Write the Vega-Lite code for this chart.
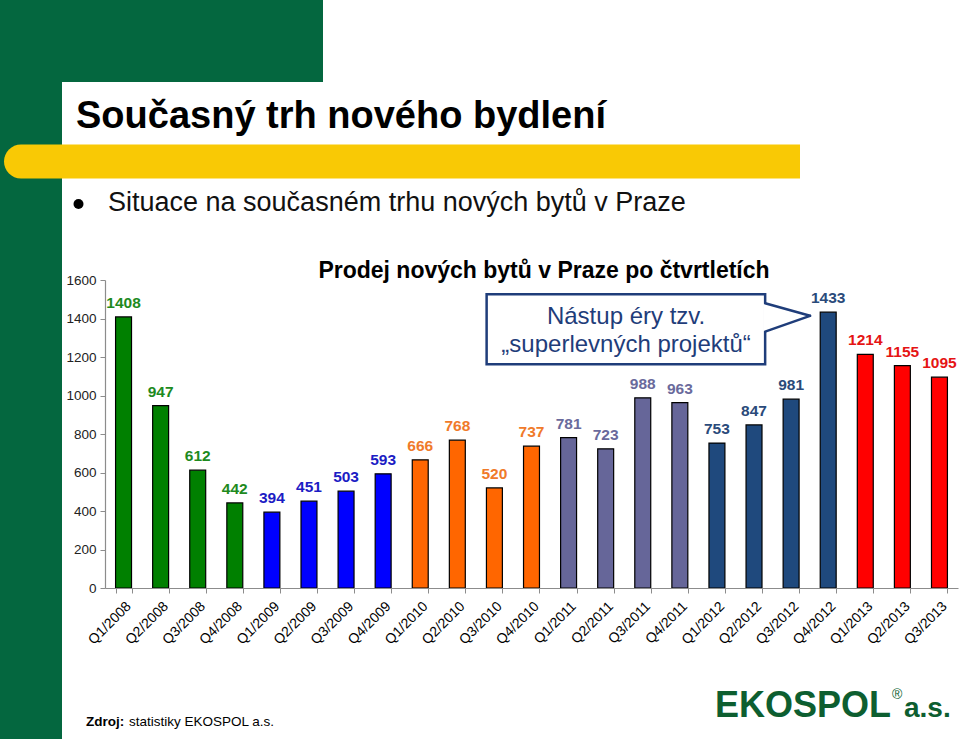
{
  "$schema": "https://vega.github.io/schema/vega-lite/v6.json",
  "width": 853,
  "height": 308,
  "autosize": "none",
  "padding": {"left": 105, "top": 280, "right": 1, "bottom": 151},
  "background": "#ffffff",
  "config": {"view": {"stroke": null}, "font": "Liberation Sans", "axis": {"grid": false, "zindex": 1}},
  "datasets": {
    "sales": [
      {"quarter": "Q1/2008", "year": "2008", "units": 1408},
      {"quarter": "Q2/2008", "year": "2008", "units": 947},
      {"quarter": "Q3/2008", "year": "2008", "units": 612},
      {"quarter": "Q4/2008", "year": "2008", "units": 442},
      {"quarter": "Q1/2009", "year": "2009", "units": 394},
      {"quarter": "Q2/2009", "year": "2009", "units": 451},
      {"quarter": "Q3/2009", "year": "2009", "units": 503},
      {"quarter": "Q4/2009", "year": "2009", "units": 593},
      {"quarter": "Q1/2010", "year": "2010", "units": 666},
      {"quarter": "Q2/2010", "year": "2010", "units": 768},
      {"quarter": "Q3/2010", "year": "2010", "units": 520},
      {"quarter": "Q4/2010", "year": "2010", "units": 737},
      {"quarter": "Q1/2011", "year": "2011", "units": 781},
      {"quarter": "Q2/2011", "year": "2011", "units": 723},
      {"quarter": "Q3/2011", "year": "2011", "units": 988},
      {"quarter": "Q4/2011", "year": "2011", "units": 963},
      {"quarter": "Q1/2012", "year": "2012", "units": 753},
      {"quarter": "Q2/2012", "year": "2012", "units": 847},
      {"quarter": "Q3/2012", "year": "2012", "units": 981},
      {"quarter": "Q4/2012", "year": "2012", "units": 1433},
      {"quarter": "Q1/2013", "year": "2013", "units": 1214},
      {"quarter": "Q2/2013", "year": "2013", "units": 1155},
      {"quarter": "Q3/2013", "year": "2013", "units": 1095}
    ],
    "callout": [
      {"part": "box", "x": 10.29, "x2": 17.8, "y": 1526, "y2": 1162},
      {"part": "gap", "x": 17.8, "x2": 17.8, "y": 1479, "y2": 1332},
      {"part": "pointer", "x": 17.8, "x2": 19.01, "y": 1479, "y2": 1414},
      {"part": "pointer", "x": 19.01, "x2": 17.8, "y": 1414, "y2": 1332},
      {"part": "text", "x": 14.05, "y": 1371, "text": "Nástup éry tzv."},
      {"part": "text", "x": 14.05, "y": 1228, "text": "„superlevných projektů“"}
    ],
    "slide": [
      {"part": "green", "x": 0, "x2": 323, "y": 0, "y2": 82},
      {"part": "green", "x": 0, "x2": 62, "y": 0, "y2": 739},
      {"part": "panel", "x": 62, "x2": 959, "y": 82, "y2": 739},
      {"part": "band", "x": 4, "x2": 800, "y": 144.5, "y2": 178.5},
      {"part": "bullet", "x": 78.5, "y": 204},
      {"part": "title", "x": 76, "y": 128, "text": "Současný trh nového bydlení"},
      {"part": "bulletText", "x": 108, "y": 211, "text": "Situace na současném trhu nových bytů v Praze"},
      {"part": "chartTitle", "x": 544, "y": 278, "text": "Prodej nových bytů v Praze po čtvrtletích"},
      {"part": "sourceLabel", "x": 86, "y": 726, "text": "Zdroj:"},
      {"part": "sourceText", "x": 129, "y": 726, "text": "statistiky EKOSPOL a.s."},
      {"part": "logo", "x": 715, "y": 717, "text": "EKOSPOL"},
      {"part": "logoMark", "x": 892, "y": 699, "text": "®"},
      {"part": "logoSuffix", "x": 904, "y": 717, "text": "a.s."}
    ]
  },
  "resolve": {"scale": {"x": "independent", "y": "independent", "color": "independent"}},
  "layer": [
    {
      "data": {"name": "slide"},
      "encoding": {
        "x": {"field": "x", "type": "quantitative", "scale": {"domain": [0, 959], "range": [-105, 854], "nice": false, "zero": false}, "axis": null},
        "y": {"field": "y", "type": "quantitative", "scale": {"domain": [0, 739], "range": [-280, 459], "nice": false, "zero": false}, "axis": null}
      },
      "layer": [
        {"transform": [{"filter": "datum.part === 'green'"}], "mark": {"type": "rect", "color": "#04673f"}, "encoding": {"x2": {"field": "x2"}, "y2": {"field": "y2"}}},
        {"transform": [{"filter": "datum.part === 'panel'"}], "mark": {"type": "rect", "color": "#ffffff", "cornerRadiusTopLeft": 26}, "encoding": {"x2": {"field": "x2"}, "y2": {"field": "y2"}}},
        {"transform": [{"filter": "datum.part === 'band'"}], "mark": {"type": "rect", "color": "#f9c905", "cornerRadiusTopLeft": 17, "cornerRadiusBottomLeft": 17}, "encoding": {"x2": {"field": "x2"}, "y2": {"field": "y2"}}},
        {"transform": [{"filter": "datum.part === 'bullet'"}], "mark": {"type": "point", "shape": "circle", "filled": true, "color": "#000000", "size": 100, "opacity": 1}},
        {"transform": [{"filter": "datum.part === 'title'"}], "mark": {"type": "text", "fontSize": 38, "fontWeight": "bold", "align": "left", "baseline": "alphabetic", "color": "#000000"}, "encoding": {"text": {"field": "text"}}},
        {"transform": [{"filter": "datum.part === 'bulletText'"}], "mark": {"type": "text", "fontSize": 27, "align": "left", "baseline": "alphabetic", "color": "#111111"}, "encoding": {"text": {"field": "text"}}},
        {"transform": [{"filter": "datum.part === 'chartTitle'"}], "mark": {"type": "text", "fontSize": 23, "fontWeight": "bold", "align": "center", "baseline": "alphabetic", "color": "#000000"}, "encoding": {"text": {"field": "text"}}},
        {"transform": [{"filter": "datum.part === 'sourceLabel'"}], "mark": {"type": "text", "fontSize": 13.5, "fontWeight": "bold", "align": "left", "baseline": "alphabetic", "color": "#000000"}, "encoding": {"text": {"field": "text"}}},
        {"transform": [{"filter": "datum.part === 'sourceText'"}], "mark": {"type": "text", "fontSize": 13.5, "align": "left", "baseline": "alphabetic", "color": "#000000"}, "encoding": {"text": {"field": "text"}}},
        {"transform": [{"filter": "datum.part === 'logo'"}], "mark": {"type": "text", "fontSize": 36, "fontWeight": "bold", "align": "left", "baseline": "alphabetic", "color": "#0d5e30"}, "encoding": {"text": {"field": "text"}}},
        {"transform": [{"filter": "datum.part === 'logoMark'"}], "mark": {"type": "text", "fontSize": 14, "align": "left", "baseline": "alphabetic", "color": "#0d5e30"}, "encoding": {"text": {"field": "text"}}},
        {"transform": [{"filter": "datum.part === 'logoSuffix'"}], "mark": {"type": "text", "fontSize": 28, "fontWeight": "bold", "align": "left", "baseline": "alphabetic", "color": "#0d5e30"}, "encoding": {"text": {"field": "text"}}}
      ]
    },
    {
      "resolve": {"scale": {"x": "independent", "y": "independent", "color": "independent"}},
      "layer": [
        {
          "data": {"name": "sales"},
          "encoding": {
            "x": {"field": "quarter", "type": "nominal", "sort": null,
              "scale": {"paddingInner": 0.57, "paddingOuter": 0.285},
              "axis": {"title": null, "zindex": 1, "labelAngle": -45, "labelFontSize": 14, "labelColor": "#000000", "tickBand": "extent", "domainColor": "#8c8c8c", "tickColor": "#8c8c8c", "tickSize": 5, "labelPadding": 6, "domainWidth": 1.2}},
            "y": {"field": "units", "type": "quantitative",
              "scale": {"domain": [0, 1600], "nice": false},
              "axis": {"title": null, "zindex": 1, "format": "d", "values": [0, 200, 400, 600, 800, 1000, 1200, 1400, 1600], "labelFontSize": 13.5, "labelColor": "#222222", "domainColor": "#8c8c8c", "tickColor": "#8c8c8c", "tickSize": 5, "labelPadding": 4, "grid": false, "domainWidth": 1.2}}
          },
          "resolve": {"scale": {"color": "independent"}},
          "layer": [
            {"mark": {"type": "bar", "stroke": "#000000", "strokeWidth": 1.2},
             "encoding": {"color": {"field": "year", "type": "nominal", "scale": {"domain": ["2008", "2009", "2010", "2011", "2012", "2013"], "range": ["#008000", "#0000ff", "#ff6600", "#666699", "#1f497d", "#ff0000"]}, "legend": null}}},
            {"mark": {"type": "text", "fontSize": 15.5, "fontWeight": "bold", "baseline": "alphabetic", "dy": -9},
             "encoding": {"text": {"field": "units", "type": "quantitative", "format": "d"},
               "color": {"field": "year", "type": "nominal", "scale": {"domain": ["2008", "2009", "2010", "2011", "2012", "2013"], "range": ["#1e8a1e", "#1c1cc4", "#f07a2a", "#6a6a9c", "#2a4a7a", "#e51414"]}, "legend": null}}}
          ]
        },
        {
          "data": {"name": "callout"},
          "encoding": {
            "x": {"field": "x", "type": "quantitative", "scale": {"domain": [0, 23], "nice": false, "zero": false}, "axis": null},
            "y": {"field": "y", "type": "quantitative", "scale": {"domain": [0, 1600], "nice": false}, "axis": null}
          },
          "layer": [
            {"transform": [{"filter": "datum.part === 'box'"}], "mark": {"type": "rect", "fill": "#ffffff", "stroke": "#1f3d7a", "strokeWidth": 2.5}, "encoding": {"x2": {"field": "x2"}, "y2": {"field": "y2"}}},
            {"transform": [{"filter": "datum.part === 'gap'"}], "mark": {"type": "rule", "color": "#ffffff", "strokeWidth": 4}, "encoding": {"x2": {"field": "x2"}, "y2": {"field": "y2"}}},
            {"transform": [{"filter": "datum.part === 'pointer'"}], "mark": {"type": "rule", "color": "#1f3d7a", "strokeWidth": 2.5, "strokeCap": "round"}, "encoding": {"x2": {"field": "x2"}, "y2": {"field": "y2"}}},
            {"transform": [{"filter": "datum.part === 'text'"}], "mark": {"type": "text", "fontSize": 24, "color": "#1f3d7a", "align": "center", "baseline": "alphabetic"}, "encoding": {"text": {"field": "text"}}}
          ]
        }
      ]
    }
  ]
}
